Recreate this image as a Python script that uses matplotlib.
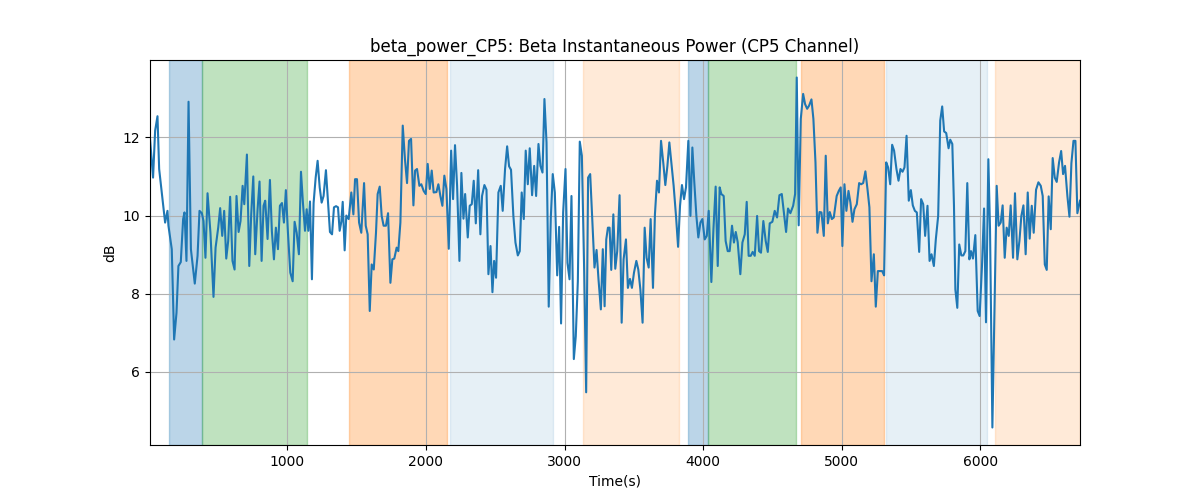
import matplotlib
matplotlib.use('Agg')
import matplotlib.pyplot as plt

# time stamps (s) and beta power (dB)
time_s = [10, 32, 47, 64, 76, 100, 119, 136, 143, 167, 184, 201, 215, 232, 249, 259, 273, 288, 305, 333,
          353, 367, 384, 396, 410, 425, 446, 468, 483, 502, 516, 531, 545, 560, 574, 588, 605, 620, 634, 649,
          663, 678, 690, 709, 726, 740, 755, 769, 786, 800, 815, 829,
          841, 858, 875, 889, 904, 918, 933, 947, 962, 976, 990, 1005, 1022, 1039, 1053, 1068, 1084, 1099,
          1113, 1128, 1140, 1152, 1164, 1178, 1190, 1205, 1219, 1234, 1248, 1262, 1279, 1294, 1308, 1323,
          1337, 1352, 1366, 1378, 1390, 1400, 1414, 1426, 1443, 1462, 1477, 1489, 1503, 1518, 1534, 1554,
          1566, 1580, 1595, 1609,
          1624, 1640, 1652, 1667, 1681, 1695, 1712, 1727, 1744, 1758, 1772, 1789, 1801, 1816, 1833, 1849,
          1864, 1878, 1893, 1910, 1922, 1936, 1953, 1967, 1984, 1999, 2013, 2028, 2042, 2056, 2076, 2090,
          2105, 2119, 2133, 2148, 2165, 2182, 2196, 2210, 2225, 2242, 2256, 2271, 2283, 2302, 2316, 2331,
          2345, 2360, 2377, 2393, 2405, 2422, 2437, 2451,
          2466, 2480, 2492, 2506, 2523, 2540, 2554, 2571, 2586, 2600, 2614, 2631, 2646, 2663, 2677, 2691,
          2706, 2720, 2735, 2749, 2766, 2781, 2795, 2812, 2826, 2841, 2855, 2870, 2886, 2901, 2915, 2930,
          2947, 2961, 2975, 2990, 3007, 3021, 3036, 3050, 3067, 3081, 3096, 3110, 3125, 3142, 3156, 3170,
          3185, 3199, 3216, 3231, 3245, 3262, 3276,
          3289, 3301, 3313, 3325, 3337, 3352, 3366, 3380, 3397, 3412, 3426, 3443, 3457, 3472, 3486, 3501,
          3518, 3532, 3547, 3563, 3578, 3592, 3607, 3621, 3638, 3652, 3667, 3681, 3696, 3713, 3727, 3742,
          3756, 3770, 3787, 3804, 3819, 3833, 3847, 3862, 3876, 3893, 3908, 3922, 3936, 3951, 3965, 3980,
          3994, 4011, 4026, 4040, 4059, 4074, 4090, 4105,
          4119, 4131, 4148, 4162, 4177, 4191, 4208, 4222, 4235, 4249, 4268, 4283, 4300, 4314, 4328, 4343,
          4357, 4372, 4389, 4403, 4417, 4434, 4451, 4466, 4480, 4499, 4516, 4533, 4550, 4567, 4584, 4598,
          4612, 4629, 4649, 4663, 4675, 4689, 4704, 4721, 4735, 4750, 4764, 4781, 4795, 4810, 4824, 4839,
          4853, 4870, 4884, 4899, 4913, 4928, 4942,
          4963, 4978, 4992, 5004, 5019, 5033, 5048, 5062, 5077, 5091, 5108, 5125, 5139, 5154, 5170, 5185,
          5199, 5214, 5231, 5245, 5260, 5274, 5291, 5305, 5320, 5334, 5349, 5363, 5377, 5394, 5409, 5423,
          5438, 5452, 5467, 5483, 5498, 5512, 5527, 5541, 5558, 5572, 5587, 5601, 5618, 5633, 5647, 5664,
          5678, 5695, 5710, 5724, 5738, 5753, 5770,
          5782, 5797, 5809, 5819, 5833, 5847, 5862, 5876, 5891, 5905, 5920, 5932, 5946, 5963, 5980, 5994,
          6011, 6026, 6040, 6057, 6069, 6086, 6103, 6117, 6131, 6146, 6160, 6175, 6189, 6204, 6218, 6235,
          6249, 6266, 6281, 6295, 6310, 6326, 6341, 6355, 6370, 6384, 6401, 6418, 6435, 6449, 6464, 6478,
          6492, 6507, 6521, 6536, 6550, 6567, 6582, 6596, 6610, 6627, 6642, 6656, 6671, 6685, 6699, 6718]

beta_db = [11.97, 10.97, 12.17, 12.54, 11.19, 10.42, 9.82, 10.12, 9.74, 9.14, 6.83, 7.51, 8.71, 8.81, 9.91, 10.08, 8.84, 12.91, 9.14, 8.26,
           8.97, 10.12, 10.06, 9.86, 8.92, 10.57, 9.56, 7.92, 9.18, 9.69, 10.19, 9.48, 10.12, 8.90, 9.35, 10.48, 8.84, 8.62, 10.50, 9.58,
           9.86, 10.76, 10.29, 11.56, 8.71, 10.03, 11.00, 9.01, 10.16, 10.87, 8.84, 10.25,
           10.38, 9.40, 10.91, 9.60, 8.88, 9.69, 9.14, 10.25, 10.32, 9.82, 10.65, 9.56, 8.54, 8.32, 9.84, 9.56, 9.01, 11.12,
           10.33, 9.61, 10.16, 9.61, 10.36, 8.37, 10.32, 10.97, 11.40, 10.72, 10.33, 10.50, 11.16, 10.33, 9.58, 9.52,
           10.21, 10.24, 10.21, 9.61, 9.84, 10.35, 9.11, 10.00, 9.91, 10.59, 10.03, 10.93, 10.93, 9.82, 9.56, 10.83,
           9.74, 9.52, 7.56, 8.75,
           8.62, 9.56, 10.55, 10.74, 9.99, 9.74, 9.74, 10.06, 8.28, 8.88, 8.90, 9.18, 9.09, 9.82, 12.30, 11.44,
           10.83, 11.91, 11.96, 10.26, 11.15, 11.19, 10.76, 10.80, 10.63, 10.55, 11.32, 10.68, 11.15, 10.59, 10.60, 10.80,
           10.49, 10.25, 11.02, 10.68, 9.15, 11.66, 10.42, 11.80, 10.76, 8.84, 11.09, 9.92, 10.55, 9.44, 10.25, 10.29,
           10.89, 9.80, 11.16, 9.52, 10.50, 10.78, 10.66, 8.50,
           9.22, 8.04, 8.84, 8.41, 10.59, 10.76, 10.12, 11.19, 11.77, 11.26, 11.17, 9.99, 9.31, 8.98, 9.09, 10.59,
           9.91, 11.66, 10.80, 11.72, 10.52, 11.27, 10.50, 11.83, 11.27, 11.10, 12.98, 11.87, 7.67, 9.95, 11.06, 10.59,
           8.47, 9.71, 7.24, 10.08, 11.19, 8.79, 8.37, 10.50, 6.33, 6.91, 8.32, 11.89, 11.53, 8.54, 5.48, 10.97,
           11.06, 9.99, 8.67, 9.12, 8.37, 7.60, 9.14,
           7.68, 9.39, 9.69, 9.69, 8.61, 10.03, 8.64, 9.09, 10.52, 7.26, 8.88, 9.39, 8.15, 8.38, 8.15, 8.54,
           8.84, 8.62, 8.11, 7.26, 9.69, 8.92, 8.67, 9.91, 8.15, 10.03, 10.89, 10.59, 11.91, 11.32, 10.78, 11.27,
           11.87, 11.36, 10.76, 9.99, 9.20, 10.25, 10.78, 10.42, 10.72, 11.91, 9.99, 11.74, 10.85, 9.99, 9.44, 9.82,
           9.91, 9.39, 9.48, 10.12, 8.30, 9.65, 10.74, 8.71,
           10.72, 10.55, 10.50, 9.35, 9.09, 9.09, 9.74, 9.31, 9.58, 9.32, 8.50, 9.31, 9.52, 10.35, 8.97, 8.97,
           9.07, 8.97, 9.99, 9.09, 9.05, 9.86, 9.35, 9.07, 9.80, 9.84, 10.12, 9.95, 10.52, 10.55, 10.01, 9.58,
           10.18, 10.06, 10.25, 10.55, 13.53, 9.75, 12.47, 13.11, 12.85, 12.73, 12.81, 12.97, 12.47, 11.36, 9.56, 10.09,
           10.08, 9.48, 11.53, 9.80, 10.09, 9.91, 9.95,
           10.50, 10.63, 10.72, 9.22, 10.80, 10.12, 10.63, 10.33, 9.84, 10.16, 10.29, 10.83, 10.80, 10.83, 11.13, 10.68,
           10.21, 8.32, 9.01, 7.67, 8.58, 8.58, 8.58, 8.47, 11.36, 11.23, 10.80, 11.81, 11.66, 11.19, 10.89, 11.19,
           11.12, 11.23, 12.04, 10.38, 10.65, 10.26, 10.12, 10.08, 9.07, 10.42, 10.29, 9.48, 10.25, 8.84, 9.01, 8.71,
           9.39, 9.99, 12.43, 12.79, 12.15, 12.11, 11.72,
           11.94, 11.83, 10.25, 8.11, 7.64, 9.26, 8.98, 8.98, 9.09, 10.83, 8.88, 9.09, 8.90, 9.50, 7.56, 7.43,
           8.71, 10.18, 7.27, 11.44, 9.65, 4.58, 8.03, 10.76, 9.74, 9.82, 10.26, 8.92, 9.69, 9.48, 10.26, 8.92,
           10.57, 8.88, 9.35, 9.99, 10.26, 9.01, 10.59, 9.41, 10.25, 9.56, 10.66, 10.85, 10.76, 10.50, 8.75, 8.61,
           10.49, 9.65, 11.47, 10.97, 10.86, 11.36, 11.65, 11.06, 11.27, 10.50, 9.97, 11.34, 11.91, 11.91, 10.06, 10.38]

# shaded segments: (start, end, colour, alpha)
seg_start = [148, 386, 1448, 2177, 3130, 3888, 4037, 4704, 5322, 6105]
seg_end = [386, 1142, 2150, 2918, 3828, 4037, 4668, 5305, 6050, 6718]
seg_color = ['tab:blue', 'tab:green', 'tab:orange', 'tab:blue', 'tab:orange',
             'tab:blue', 'tab:green', 'tab:orange', 'tab:blue', 'tab:orange']
seg_alpha = [0.3, 0.3, 0.3, 0.11, 0.16, 0.3, 0.3, 0.3, 0.11, 0.16]

fig, ax = plt.subplots(figsize=(12, 5), dpi=100)

for s, e, c, a in zip(seg_start, seg_end, seg_color, seg_alpha):
    ax.axvspan(s, e, color=c, alpha=a)

ax.plot(time_s, beta_db, color='tab:blue', linewidth=1.5)

ax.set_xlim(time_s[0], time_s[-1])
ax.set_title('beta_power_CP5: Beta Instantaneous Power (CP5 Channel)')
ax.set_xlabel('Time(s)')
ax.set_ylabel('dB')
ax.grid(True)

fig.savefig('out.png')
